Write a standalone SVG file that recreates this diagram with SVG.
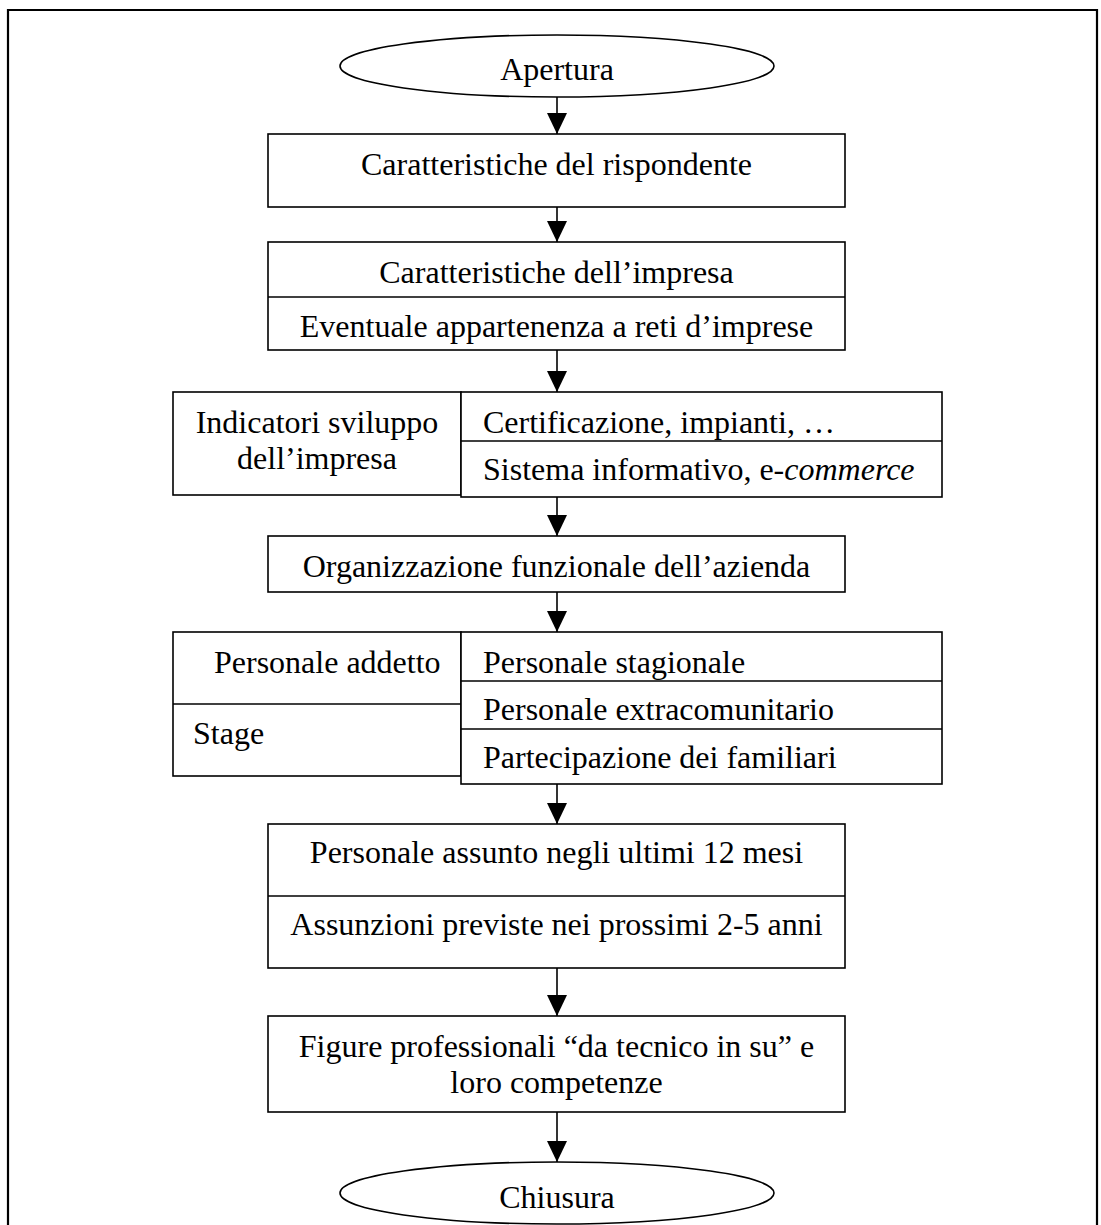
<svg xmlns="http://www.w3.org/2000/svg" width="1101" height="1225" viewBox="0 0 1101 1225">
<defs>
<marker id="ah" viewBox="0 0 21 20" refX="21" refY="10" markerWidth="21" markerHeight="20" markerUnits="userSpaceOnUse" orient="auto">
<path d="M0,0 L21,10 L0,20 Z" fill="#000"/>
</marker>
</defs>
<style>
.b{fill:#fff;stroke:#000;stroke-width:1.6}
.d{stroke:#000;stroke-width:1.6;fill:none}
.t{font-family:"Liberation Serif","Times New Roman",serif;font-size:32px;fill:#000}
.c{text-anchor:middle}
.a{stroke:#000;stroke-width:1.6;fill:none;marker-end:url(#ah)}
</style>
<rect x="0" y="0" width="1101" height="1225" fill="#fff"/>
<path d="M8,1230 V10 H1097 V1230" fill="none" stroke="#000" stroke-width="2.2"/>

<g id="connectors">
<line class="a" x1="557" y1="97" x2="557" y2="134"/>
<line class="a" x1="557" y1="207" x2="557" y2="242"/>
<line class="a" x1="557" y1="350" x2="557" y2="392"/>
<line class="a" x1="557" y1="497" x2="557" y2="536"/>
<line class="a" x1="557" y1="592" x2="557" y2="632"/>
<line class="a" x1="557" y1="784" x2="557" y2="824"/>
<line class="a" x1="557" y1="968" x2="557" y2="1016"/>
<line class="a" x1="557" y1="1112" x2="557" y2="1162"/>
</g>

<g id="apertura">
<ellipse class="b" cx="557" cy="66" rx="217" ry="31"/>
<text class="t c" x="557" y="80">Apertura</text>
</g>

<g id="rispondente">
<rect class="b" x="268" y="134" width="577" height="73"/>
<text class="t c" x="556.5" y="175">Caratteristiche del rispondente</text>
</g>

<g id="impresa">
<rect class="b" x="268" y="242" width="577" height="108"/>
<line class="d" x1="268" y1="297" x2="845" y2="297"/>
<text class="t c" x="556.5" y="283">Caratteristiche dell’impresa</text>
<text class="t c" x="556.5" y="337">Eventuale appartenenza a reti d’imprese</text>
</g>

<g id="indicatori">
<rect class="b" x="173" y="392" width="288" height="103"/>
<text class="t c" x="317" y="433">Indicatori sviluppo</text>
<text class="t c" x="317" y="469">dell’impresa</text>
</g>

<g id="indicatori-dettaglio">
<rect class="b" x="461" y="392" width="481" height="105"/>
<line class="d" x1="461" y1="441" x2="942" y2="441"/>
<text class="t" x="483" y="433">Certificazione, impianti, …</text>
<text class="t" x="483" y="480">Sistema informativo, e-<tspan font-style="italic">commerce</tspan></text>
</g>

<g id="organizzazione">
<rect class="b" x="268" y="536" width="577" height="56"/>
<text class="t c" x="556.5" y="577">Organizzazione funzionale dell’azienda</text>
</g>

<g id="personale">
<rect class="b" x="173" y="632" width="288" height="144"/>
<line class="d" x1="173" y1="704" x2="461" y2="704"/>
<text class="t" x="214" y="673">Personale addetto</text>
<text class="t" x="193" y="744">Stage</text>
</g>

<g id="personale-dettaglio">
<rect class="b" x="461" y="632" width="481" height="152"/>
<line class="d" x1="461" y1="681" x2="942" y2="681"/>
<line class="d" x1="461" y1="729" x2="942" y2="729"/>
<text class="t" x="483" y="673">Personale stagionale</text>
<text class="t" x="483" y="720">Personale extracomunitario</text>
<text class="t" x="483" y="768">Partecipazione dei familiari</text>
</g>

<g id="assunzioni">
<rect class="b" x="268" y="824" width="577" height="144"/>
<line class="d" x1="268" y1="896" x2="845" y2="896"/>
<text class="t c" x="556.5" y="863">Personale assunto negli ultimi 12 mesi</text>
<text class="t c" x="556.5" y="935">Assunzioni previste nei prossimi 2-5 anni</text>
</g>

<g id="figure">
<rect class="b" x="268" y="1016" width="577" height="96"/>
<text class="t c" x="556.5" y="1057">Figure professionali “da tecnico in su” e</text>
<text class="t c" x="556.5" y="1093">loro competenze</text>
</g>

<g id="chiusura">
<ellipse class="b" cx="557" cy="1193" rx="217" ry="31"/>
<text class="t c" x="557" y="1208">Chiusura</text>
</g>
</svg>
